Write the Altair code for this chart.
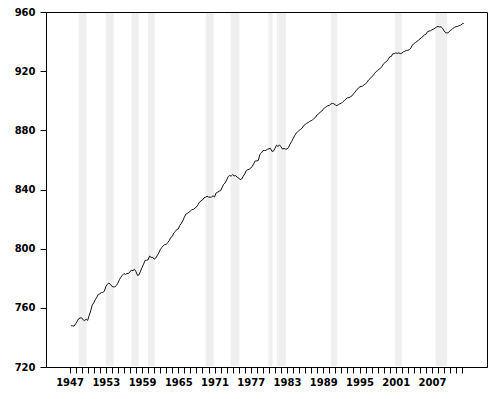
import altair as alt
import pandas as pd
import numpy as np

# Quarterly real GDP (billions, chained dollars), 1947Q1 .. 2012Q1 ; plotted as 100*ln
start_year = 1947
gdp_q = [
    1770.7, 1768.0, 1766.5, 1793.3,   # 1947
    1821.8, 1855.3, 1865.3, 1868.2,   # 1948
    1842.2, 1833.0, 1850.8, 1834.6,   # 1949
    1900.3, 1957.7, 2034.7, 2066.4,   # 1950
    2110.2, 2145.0, 2189.0, 2195.2,   # 1951
    2214.6, 2217.3, 2234.5, 2305.5,   # 1952
    2343.0, 2360.9, 2345.1, 2311.7,   # 1953
    2302.3, 2301.7, 2324.0, 2360.4,   # 1954
    2416.7, 2458.6, 2491.0, 2518.5,   # 1955
    2504.5, 2520.6, 2519.0, 2553.8,   # 1956
    2574.0, 2569.2, 2592.8, 2550.8,   # 1957
    2488.6, 2497.1, 2561.6, 2625.0,   # 1958
    2684.3, 2753.0, 2756.3, 2764.6,   # 1959
    2836.0, 2809.7, 2812.8, 2775.6,   # 1960
    2794.8, 2842.4, 2892.0, 2958.2,   # 1961
    3003.9, 3039.0, 3063.3, 3067.2,   # 1962
    3108.6, 3148.7, 3215.4, 3240.3,   # 1963
    3314.0, 3347.0, 3393.4, 3405.3,   # 1964
    3491.9, 3536.2, 3603.0, 3685.2,   # 1965
    3765.5, 3784.4, 3812.6, 3844.1,   # 1966
    3880.6, 3886.1, 3919.9, 3948.8,   # 1967
    4013.6, 4083.1, 4116.1, 4141.2,   # 1968
    4203.1, 4219.0, 4246.0, 4226.3,   # 1969
    4221.2, 4226.1, 4264.3, 4225.3,   # 1970
    4342.4, 4363.9, 4396.5, 4411.5,   # 1971
    4506.3, 4603.7, 4647.5, 4740.0,   # 1972
    4851.2, 4888.9, 4868.0, 4915.6,   # 1973
    4876.2, 4884.0, 4832.4, 4807.1,   # 1974
    4751.5, 4775.6, 4863.4, 4942.2,   # 1975
    5055.8, 5082.6, 5103.6, 5140.1,   # 1976
    5203.6, 5302.2, 5395.6, 5395.3,   # 1977
    5414.8, 5637.8, 5690.5, 5780.6,   # 1978
    5787.1, 5793.1, 5837.5, 5853.6,   # 1979
    5874.9, 5758.2, 5761.5, 5872.2,   # 1980
    5998.5, 5948.7, 6008.6, 5935.1,   # 1981
    5843.4, 5870.3, 5843.6, 5846.4,   # 1982
    5913.0, 6043.0, 6143.6, 6271.7,   # 1983
    6396.3, 6504.3, 6565.4, 6628.2,   # 1984
    6680.8, 6734.5, 6847.4, 6900.5,   # 1985
    6960.8, 6991.7, 7050.4, 7083.5,   # 1986
    7124.5, 7200.1, 7261.2, 7377.3,   # 1987
    7417.5, 7510.3, 7553.7, 7653.6,   # 1988
    7737.0, 7781.4, 7838.7, 7856.8,   # 1989
    7927.6, 7957.9, 7941.2, 7876.4,   # 1990
    7839.0, 7893.1, 7938.2, 7970.3,   # 1991
    8053.5, 8111.6, 8193.4, 8269.2,   # 1992
    8271.8, 8327.1, 8376.4, 8494.3,   # 1993
    8590.3, 8718.0, 8787.3, 8903.7,   # 1994
    8924.3, 8947.0, 9028.5, 9086.8,   # 1995
    9171.1, 9329.9, 9406.6, 9532.7,   # 1996
    9604.1, 9750.3, 9869.5, 9935.7,   # 1997
    10036.4, 10102.5, 10239.6, 10411.3,  # 1998
    10505.2, 10577.7, 10721.9, 10908.8,  # 1999
    10929.1, 11137.5, 11131.9, 11197.6,  # 2000
    11165.0, 11201.0, 11147.8, 11174.3,  # 2001
    11270.9, 11328.7, 11387.1, 11391.1,  # 2002
    11449.3, 11581.2, 11799.5, 11924.7,  # 2003
    12006.8, 12100.0, 12194.9, 12300.0,  # 2004
    12435.2, 12520.3, 12647.5, 12709.1,  # 2005
    12926.5, 12979.8, 13003.1, 13098.9,  # 2006
    13153.3, 13245.4, 13335.9, 13391.8,  # 2007
    13339.2, 13359.0, 13223.5, 12993.7,  # 2008
    12832.6, 12810.0, 12860.8, 13019.0,  # 2009
    13103.5, 13238.5, 13323.6, 13380.7,  # 2010
    13388.9, 13471.3, 13502.4, 13639.4,  # 2011
    13666.5,                             # 2012
]

# Recession shading (start, end) in fractional years
rec_start = [1948.5, 1953.0, 1957.25, 1960.0, 1969.55, 1973.65, 1979.9, 1981.3, 1990.3, 2000.9, 2007.6]
rec_end = [1949.83, 1954.3, 1958.45, 1961.1, 1970.85, 1975.1, 1980.6, 1982.8, 1991.3, 2002.0, 2009.5]

x_ticks = list(range(1947, 2013))
y_ticks = [720, 760, 800, 840, 880, 920, 960]

df = pd.DataFrame({
    "t": [start_year + (i + 1) / 4 for i in range(len(gdp_q))],
    "gdp": gdp_q,
})
df["lngdp"] = 100 * np.log(df["gdp"])
rec = pd.DataFrame({"s": rec_start, "e": rec_end})

xscale = alt.Scale(domain=[1943.1, 2016.1], nice=False, zero=False)
yscale = alt.Scale(domain=[720, 960], nice=False, zero=False)

common = dict(
    labelFont="DejaVu Sans", labelFontWeight="bold", labelFontSize=10,
    labelColor="black", domainColor="black", tickColor="black",
    domainWidth=1, tickWidth=1, grid=False, title=None,
)

xaxis = alt.Axis(
    values=x_ticks, format="d",
    labelExpr="(datum.value - 1947) % 6 == 0 ? datum.label : ''",
    tickSize=6, labelPadding=4, labelOverlap=False, labelFlush=False,
    **common,
)
yaxis = alt.Axis(values=y_ticks, tickSize=6, labelPadding=5, labelOverlap=False, **common)

bars = alt.Chart(rec).mark_rect(color="#efefef").encode(
    x=alt.X("s:Q", scale=xscale, axis=xaxis),
    x2="e:Q",
    y=alt.value(1),
    y2=alt.value(354),
)
line = alt.Chart(df).mark_line(color="#111111", strokeWidth=1).encode(
    x=alt.X("t:Q", scale=xscale, axis=xaxis),
    y=alt.Y("lngdp:Q", scale=yscale, axis=yaxis),
)

chart = alt.layer(bars, line).properties(
    width=441, height=355,
    autosize=alt.AutoSizeParams(type="none"),
    padding={"left": 38, "top": 4, "right": 5, "bottom": 20},
    background="white",
).configure_view(stroke="black", strokeWidth=1)

chart.save("out.html", embed_options={"renderer": "svg", "actions": False})
